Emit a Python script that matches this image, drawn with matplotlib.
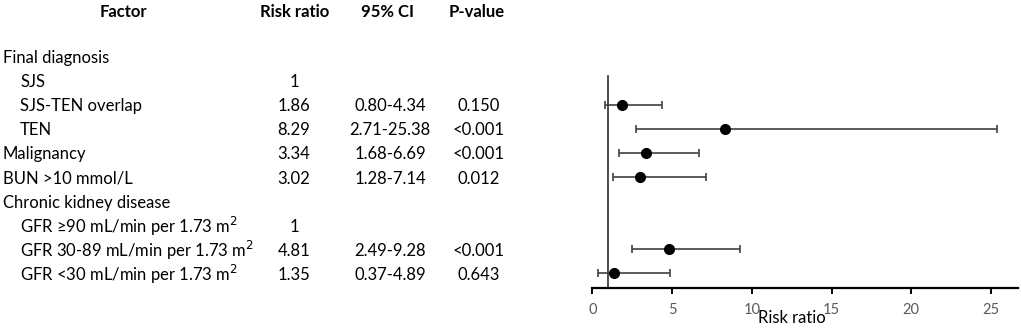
import matplotlib
matplotlib.use("Agg")
import matplotlib.pyplot as plt
from matplotlib.transforms import blended_transform_factory

plt.rcParams['font.family'] = ['Lato', 'DejaVu Sans']

factors = ["Final diagnosis", "SJS", "SJS-TEN overlap", "TEN", "Malignancy",
           "BUN >10 mmol/L", "Chronic kidney disease",
           "GFR \u226590 mL/min per 1.73 m$^2$", "GFR 30-89 mL/min per 1.73 m$^2$",
           "GFR <30 mL/min per 1.73 m$^2$"]
indent = [False, True, True, True, False, False, False, True, True, True]
rr_text = ["", "1", "1.86", "8.29", "3.34", "3.02", "", "1", "4.81", "1.35"]
ci_text = ["", "", "0.80-4.34", "2.71-25.38", "1.68-6.69", "1.28-7.14", "", "", "2.49-9.28", "0.37-4.89"]
p_text = ["", "", "0.150", "<0.001", "<0.001", "0.012", "", "", "<0.001", "0.643"]

rr = [None, None, 1.86, 8.29, 3.34, 3.02, None, None, 4.81, 1.35]
lo = [None, None, 0.80, 2.71, 1.68, 1.28, None, None, 2.49, 0.37]
hi = [None, None, 4.34, 25.38, 6.69, 7.14, None, None, 9.28, 4.89]

W, H = 1021, 329
fig = plt.figure(figsize=(W / 100, H / 100), dpi=100)

x0, x1 = 592.3, 1017.7
ytop_px, ybot_px = 40, 288
ax = fig.add_axes([x0 / W, 1 - ybot_px / H, (x1 - x0) / W, (ybot_px - ytop_px) / H])

row0_px, row_step = 58.0, 24.1
ax.set_ylim((ybot_px - row0_px) / row_step, (ytop_px - row0_px) / row_step)
ax.set_xlim(0, 26.67)

for i in range(len(factors)):
    if rr[i] is None:
        continue
    y = i - 0.07
    ax.errorbar(rr[i], y, xerr=[[rr[i] - lo[i]], [hi[i] - rr[i]]], fmt='none',
                ecolor='#404040', elinewidth=1.2, capsize=3, capthick=1.2, zorder=2)
    ax.plot(rr[i], y, 'o', color='black', markersize=7, zorder=3)

ax.plot([1, 1], [(76 - row0_px) / row_step, (ybot_px - row0_px) / row_step],
        color='#303030', lw=1.2, zorder=1, clip_on=False)

for s in ['top', 'right', 'left']:
    ax.spines[s].set_visible(False)
ax.spines['bottom'].set_linewidth(1.6)
ax.set_yticks([])
ax.set_xticks([0, 5, 10, 15, 20, 25])
ax.tick_params(axis='x', direction='out', length=4, width=1.4, colors='black',
               labelcolor='#595959', labelsize=10.5, pad=7)
ax.patch.set_alpha(0)
fig.text(792 / W, 1 - 318 / H, "Risk ratio", ha='center', va='center', fontsize=12)

tr = blended_transform_factory(fig.transFigure, ax.transData)
fs = 12
for i, f in enumerate(factors):
    xl = 20 if indent[i] else 3
    ax.text(xl / W, i, f, transform=tr, ha='left', va='center', fontsize=fs, clip_on=False)
    ax.text(294 / W, i, rr_text[i], transform=tr, ha='center', va='center', fontsize=fs, clip_on=False)
    ax.text(390 / W, i, ci_text[i], transform=tr, ha='center', va='center', fontsize=fs, clip_on=False)
    ax.text(479 / W, i, p_text[i], transform=tr, ha='center', va='center', fontsize=fs, clip_on=False)

hy = 1 - 12 / H
for xc, t in [(123, "Factor"), (295, "Risk ratio"), (387, "95% CI"), (477, "P-value")]:
    fig.text(xc / W, hy, t, ha='center', va='center', fontsize=fs, fontweight='bold')

fig.savefig("out.png", dpi=100)
